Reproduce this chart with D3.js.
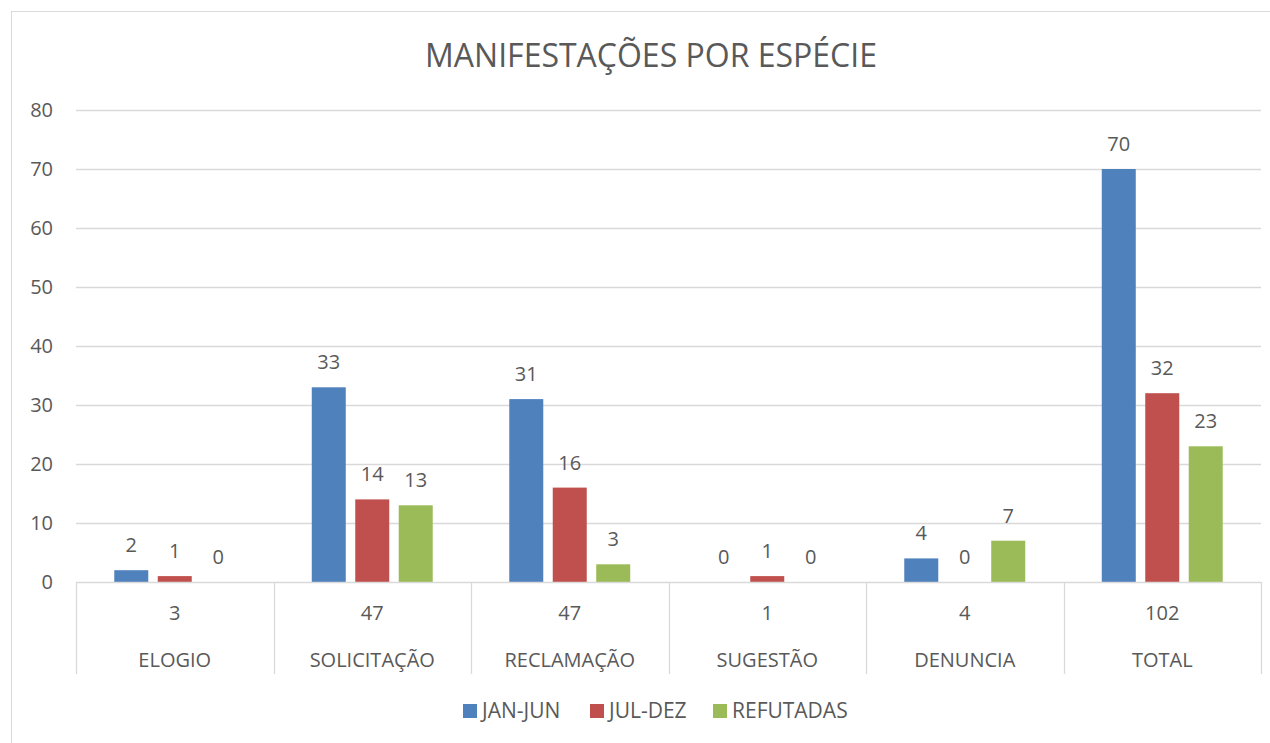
<!DOCTYPE html>
<html>
<head>
<meta charset="utf-8">
<script src="https://cdn.jsdelivr.net/npm/d3@7"></script>
<style>
  body { margin: 0; background: #fff; }
  svg text { font-family: "Open Sans", "Liberation Sans", sans-serif; fill: #595959; }
</style>
</head>
<body>
<div id="chart"></div>
<script>
// Data
var categories = ["ELOGIO", "SOLICITAÇÃO", "RECLAMAÇÃO", "SUGESTÃO", "DENUNCIA", "TOTAL"];
var totals = [3, 47, 47, 1, 4, 102];
var seriesNames = ["JAN-JUN", "JUL-DEZ", "REFUTADAS"];
var janJun = [2, 33, 31, 0, 4, 70];
var julDez = [1, 14, 16, 1, 0, 32];
var refutadas = [0, 13, 3, 0, 7, 23];
var yTicks = [0, 10, 20, 30, 40, 50, 60, 70, 80];

var colors = ["#4F81BD", "#C0504D", "#9BBB59"];
var seriesValues = [janJun, julDez, refutadas];

var width = 1270, height = 743;
var plotLeft = 76, plotRight = 1261, plotTop = 110, plotBottom = 582;
var fs = "20px";

var svg = d3.select("#chart").append("svg")
    .attr("width", width)
    .attr("height", height);

// chart border
svg.append("rect")
    .attr("x", 11.5).attr("y", 11.5)
    .attr("width", width).attr("height", height)
    .attr("fill", "none")
    .attr("stroke", "#D9D9D9");

// title
svg.append("text")
    .attr("x", 651).attr("y", 67)
    .attr("text-anchor", "middle")
    .style("font-size", "32px")
    .text("MANIFESTAÇÕES POR ESPÉCIE");

var x0 = d3.scaleBand().domain(categories).range([plotLeft, plotRight]).paddingInner(0).paddingOuter(0);
var x1 = d3.scaleBand().domain(seriesNames).range([0, x0.bandwidth()]).paddingInner(0.218).paddingOuter(0.88);
var y = d3.scaleLinear().domain([0, 80]).range([plotBottom, plotTop]);

// gridlines
svg.append("g").selectAll("line")
    .data(yTicks.filter(function (d) { return d > 0; }))
    .enter().append("line")
    .attr("x1", plotLeft).attr("x2", plotRight)
    .attr("y1", function (d) { return Math.round(y(d)) + 0.5; })
    .attr("y2", function (d) { return Math.round(y(d)) + 0.5; })
    .attr("stroke", "#D9D9D9")
    .attr("stroke-width", 1.3);

// y tick labels
svg.append("g").selectAll("text")
    .data(yTicks)
    .enter().append("text")
    .attr("x", 53)
    .attr("y", function (d) { return y(d) + 7; })
    .attr("text-anchor", "end")
    .style("font-size", fs)
    .text(function (d) { return d; });

// bars
var groups = svg.append("g").selectAll("g")
    .data(categories)
    .enter().append("g")
    .attr("transform", function (d) { return "translate(" + x0(d) + ",0)"; });

function rows(d, i) {
    return seriesNames.map(function (s, j) { return { s: s, j: j, v: seriesValues[j][i] }; });
}

groups.selectAll("rect")
    .data(rows)
    .enter().append("rect")
    .attr("x", function (d) { return x1(d.s); })
    .attr("width", x1.bandwidth())
    .attr("y", function (d) { return y(d.v); })
    .attr("height", function (d) { return plotBottom - y(d.v); })
    .attr("fill", function (d) { return colors[d.j]; });

groups.selectAll("text")
    .data(rows)
    .enter().append("text")
    .attr("x", function (d) { return x1(d.s) + x1.bandwidth() / 2; })
    .attr("y", function (d) { return y(d.v) - 18; })
    .attr("text-anchor", "middle")
    .style("font-size", fs)
    .text(function (d) { return d.v; });

// category axis (two levels)
var axisColor = "#D9D9D9";
svg.append("line")
    .attr("x1", plotLeft).attr("x2", plotRight)
    .attr("y1", plotBottom + 0.5).attr("y2", plotBottom + 0.5)
    .attr("stroke", axisColor).attr("stroke-width", 1.3);

var bounds = categories.map(function (c) { return x0(c); }).concat([plotRight]);
svg.append("g").selectAll("line")
    .data(bounds)
    .enter().append("line")
    .attr("x1", function (d) { return Math.round(d) + 0.5; })
    .attr("x2", function (d) { return Math.round(d) + 0.5; })
    .attr("y1", plotBottom).attr("y2", 674)
    .attr("stroke", axisColor).attr("stroke-width", 1.3);

svg.append("g").selectAll("text")
    .data(categories)
    .enter().append("text")
    .attr("x", function (d) { return x0(d) + x0.bandwidth() / 2; })
    .attr("y", 620)
    .attr("text-anchor", "middle")
    .style("font-size", fs)
    .text(function (d, i) { return totals[i]; });

svg.append("g").selectAll("text")
    .data(categories)
    .enter().append("text")
    .attr("x", function (d) { return x0(d) + x0.bandwidth() / 2; })
    .attr("y", 667)
    .attr("text-anchor", "middle")
    .style("font-size", fs)
    .text(function (d) { return d; });

// legend
var legendX = [463, 590, 713];
var legend = svg.append("g").selectAll("g")
    .data(seriesNames)
    .enter().append("g")
    .attr("transform", function (d, i) { return "translate(" + legendX[i] + ",704)"; });
legend.append("rect")
    .attr("width", 14).attr("height", 14)
    .attr("fill", function (d, i) { return colors[i]; });
legend.append("text")
    .attr("x", 19).attr("y", 14)
    .style("font-size", "21px")
    .text(function (d) { return d; });
</script>
</body>
</html>
